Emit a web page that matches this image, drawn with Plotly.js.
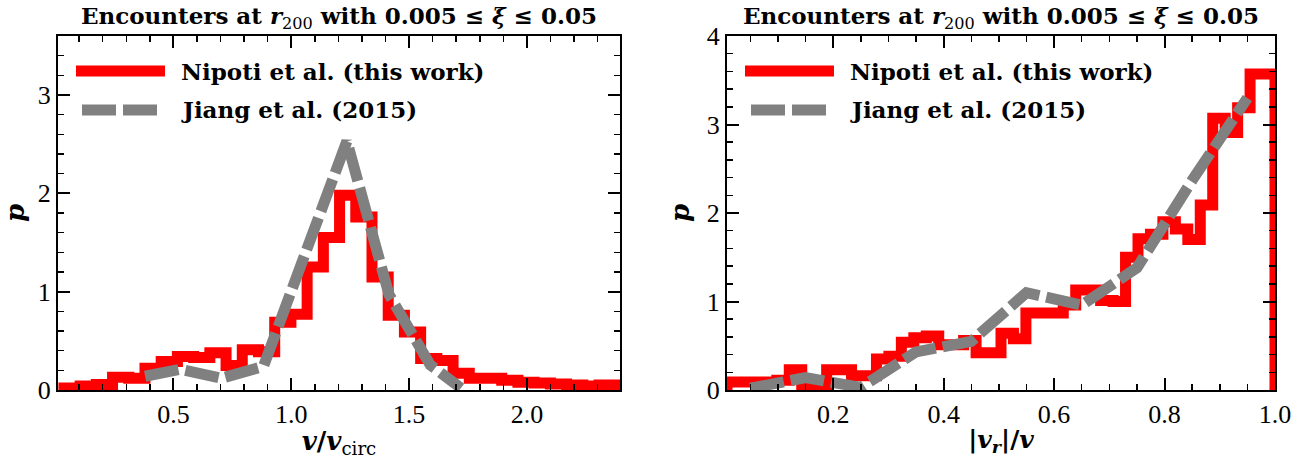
<!DOCTYPE html>
<html>
<head>
<meta charset="utf-8">
<script src="https://cdn.plot.ly/plotly-3.0.1.min.js"></script>
<style>html,body{margin:0;padding:0;background:#fff;}#chart{width:1314px;height:459px;}</style>
</head>
<body>
<div id="chart"></div>
<script>
// ---------- data ----------
// Left panel: v / v_circ
const leftBinStart = 0.0355;
const leftBinWidth = 0.0688;
const leftNipoti = [0.02, 0.04, 0.055, 0.13, 0.12, 0.22, 0.29, 0.34, 0.33, 0.38, 0.25, 0.41, 0.39, 0.69, 0.77, 1.25, 1.55, 1.98, 1.76, 1.15, 0.76, 0.59, 0.32, 0.30, 0.17, 0.12, 0.12, 0.10, 0.08, 0.07, 0.06, 0.05, 0.04, 0.05];
const leftJiangX = [0.38, 0.528, 0.705, 0.882, 1.236, 1.415, 1.59, 1.72];
const leftJiangY = [0.14, 0.21, 0.12, 0.24, 2.53, 0.97, 0.255, 0.02];

// Right panel: |v_r| / v
const rightBinStart = 0.0077;
const rightBinWidth = 0.022552;
const rightNipoti = [0.09, 0.09, 0.09, 0.09, 0.11, 0.23, 0.04, 0.04, 0.23, 0.23, 0.16, 0.16, 0.35, 0.38, 0.54, 0.59, 0.61, 0.51, 0.51, 0.56, 0.42, 0.42, 0.64, 0.58, 0.87, 0.87, 0.87, 0.96, 1.13, 1.13, 1.01, 1.00, 1.50, 1.71, 1.76, 1.90, 1.82, 1.70, 2.09, 3.07, 2.91, 3.19, 3.57, 3.57];
const rightJiangX = [0.05, 0.15, 0.25, 0.35, 0.45, 0.55, 0.65, 0.75, 0.85, 0.95];
const rightJiangY = [0.02, 0.14, 0.03, 0.43, 0.55, 1.10, 0.96, 1.38, 2.37, 3.30];

const titleText = "<b>Encounters at <i>r</i></b><sub>200</sub><b> with 0.005 ≤ <i>ξ</i> ≤ 0.05</b>";
const legendLabels = ["<b>Nipoti et al. (this work)</b>", "<b>Jiang et al. (2015)</b>"];

// ---------- helpers ----------
function stepXY(start, width, vals) {
  const x = [start], y = [0];
  for (let i = 0; i < vals.length; i++) { x.push(start + i * width); y.push(vals[i]); }
  const end = start + vals.length * width;
  x.push(end); y.push(vals[vals.length - 1]);
  x.push(end); y.push(0);
  return {x, y};
}

const RED = '#ff0000', GRAY = '#808080';
const LW = 11;
const DASH = '34px,7px';

const sL = stepXY(leftBinStart, leftBinWidth, leftNipoti);
const sR = stepXY(rightBinStart, rightBinWidth, rightNipoti);

const traces = [
  {x: sL.x, y: sL.y, xaxis: 'x', yaxis: 'y', mode: 'lines', line: {color: RED, width: LW, shape: 'hv'}, hoverinfo: 'skip'},
  {x: leftJiangX, y: leftJiangY, xaxis: 'x', yaxis: 'y', mode: 'lines', line: {color: GRAY, width: LW, dash: DASH}, hoverinfo: 'skip'},
  {x: sR.x, y: sR.y, xaxis: 'x2', yaxis: 'y2', mode: 'lines', line: {color: RED, width: LW, shape: 'hv'}, hoverinfo: 'skip'},
  {x: rightJiangX, y: rightJiangY, xaxis: 'x2', yaxis: 'y2', mode: 'lines', line: {color: GRAY, width: LW, dash: DASH}, hoverinfo: 'skip'}
];

// ---------- layout ----------
const ML = 58, MR = 39, MT = 36, MB = 69, W = 1314, H = 459;
const PW = W - ML - MR, PH = H - MT - MB;
const px2x = p => (p - ML) / PW;
const py2y = p => (H - MB - p) / PH;

const tickFont = {family: 'Liberation Serif, serif', size: 26, color: 'black'};
const boldFont = {family: 'DejaVu Serif, serif', size: 23, color: 'black'};

function axisBase() {
  return {
    showline: true, linewidth: 2, linecolor: 'black', mirror: 'allticks',
    ticks: 'inside', ticklen: 12, tickwidth: 2, tickcolor: 'black',
    showgrid: false, zeroline: false, tickfont: tickFont, fixedrange: true
  };
}

const xaxis = Object.assign(axisBase(), {
  domain: [0, px2x(620)], range: [0.0104, 2.395], tick0: 0.5, dtick: 0.5, tickformat: '.1f',
  minor: {tick0: 0, dtick: 0.1, ticks: 'inside', ticklen: 6, tickwidth: 1.5, tickcolor: 'black'},
  title: {text: '<b><i>v</i>/<i>v</i></b><sub>circ</sub>', font: {family: 'DejaVu Serif, serif', size: 26, color: 'black'}, standoff: 2},
  anchor: 'y'
});
const yaxis = Object.assign(axisBase(), {
  domain: [0, 1], range: [0, 3.6], tick0: 0, dtick: 1,
  minor: {tick0: 0, dtick: 0.2, ticks: 'inside', ticklen: 6, tickwidth: 1.5, tickcolor: 'black'},
  title: {text: '<b><i>p</i></b>', font: {family: 'DejaVu Serif, serif', size: 26, color: 'black'}, standoff: 10},
  anchor: 'x'
});
const xaxis2 = Object.assign(axisBase(), {
  domain: [px2x(727), 1], range: [0.0077, 1.0], tick0: 0, dtick: 0.2, tickformat: '.1f',
  minor: {tick0: 0, dtick: 0.05, ticks: 'inside', ticklen: 6, tickwidth: 1.5, tickcolor: 'black'},
  title: {text: '<b>|<i>v<sub>r</sub></i>|/<i>v</i></b>', font: {family: 'DejaVu Serif, serif', size: 25, color: 'black'}, standoff: 2},
  anchor: 'y2'
});
const yaxis2 = Object.assign(axisBase(), {
  domain: [0, 1], range: [0, 4], tick0: 0, dtick: 1,
  minor: {tick0: 0, dtick: 0.2, ticks: 'inside', ticklen: 6, tickwidth: 1.5, tickcolor: 'black'},
  title: {text: '<b><i>p</i></b>', font: {family: 'DejaVu Serif, serif', size: 26, color: 'black'}, standoff: 10},
  anchor: 'x2'
});

// legend drawn as shapes + annotations (two panels, same legend)
const shapes = [], annotations = [];
[0, 669].forEach(off => {
  shapes.push({type: 'line', xref: 'paper', yref: 'paper', x0: px2x(76 + off), x1: px2x(165 + off), y0: py2y(71), y1: py2y(71), line: {color: RED, width: LW}});
  shapes.push({type: 'line', xref: 'paper', yref: 'paper', x0: px2x(82 + off), x1: px2x(157 + off), y0: py2y(110), y1: py2y(110), line: {color: GRAY, width: LW, dash: DASH}});
  annotations.push({xref: 'paper', yref: 'paper', x: px2x(179 + off), y: py2y(72), xanchor: 'left', yanchor: 'middle', showarrow: false, text: legendLabels[0], font: boldFont});
  annotations.push({xref: 'paper', yref: 'paper', x: px2x(179 + off), y: py2y(110), xanchor: 'left', yanchor: 'middle', showarrow: false, text: legendLabels[1], font: boldFont});
});
// panel titles
[339, 1001].forEach(cx => {
  annotations.push({xref: 'paper', yref: 'paper', x: px2x(cx), y: py2y(18), xanchor: 'center', yanchor: 'middle', showarrow: false, text: titleText, font: {family: 'DejaVu Serif, serif', size: 23, color: 'black'}});
});

const layout = {
  width: W, height: H, margin: {l: ML, r: MR, t: MT, b: MB, pad: 0},
  paper_bgcolor: 'white', plot_bgcolor: 'white', showlegend: false,
  xaxis, yaxis, xaxis2, yaxis2, shapes, annotations
};

Plotly.newPlot('chart', traces, layout, {staticPlot: true, displayModeBar: false});
</script>
</body>
</html>
